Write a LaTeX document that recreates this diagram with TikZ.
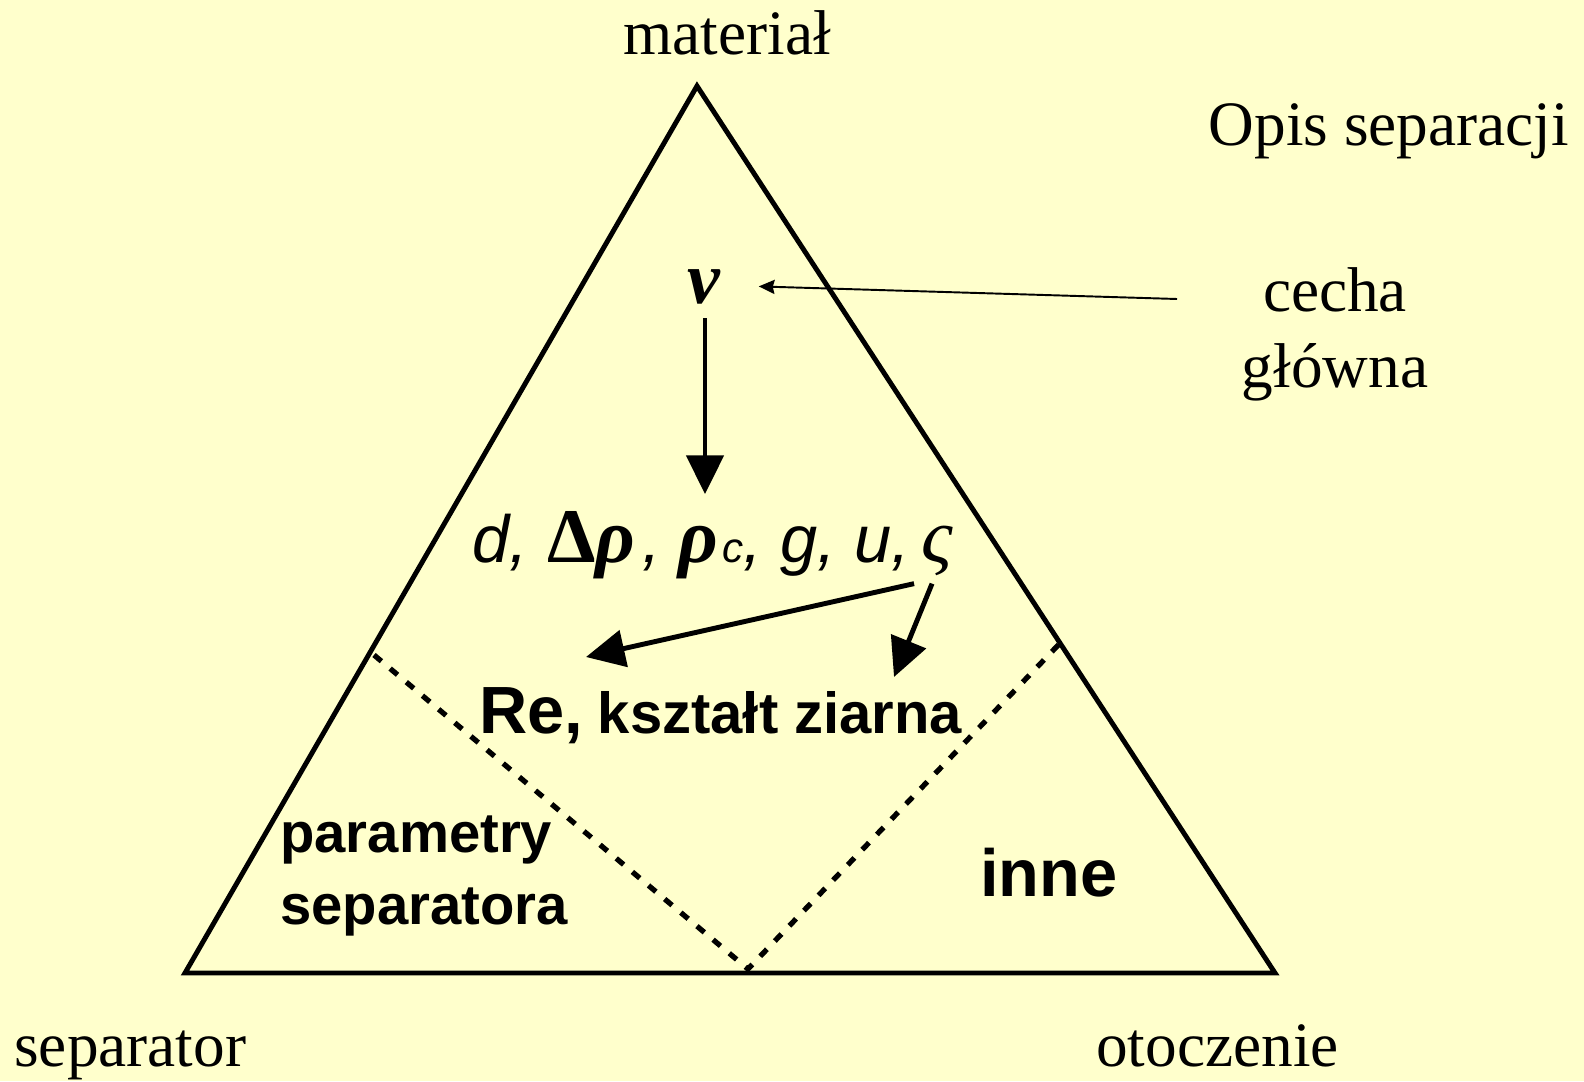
\documentclass[tikz,border=0pt]{standalone}
\usepackage{fontspec}
\setmainfont{Liberation Serif}
\setsansfont{Liberation Sans}
\usetikzlibrary{arrows.meta,calc}
\definecolor{tlo}{RGB}{255,255,204}

\begin{document}
\begin{tikzpicture}[x=0.02cm,y=-0.02cm,
    bok/.style={line width=2.8pt,line join=miter},
    podzial/.style={line width=3pt,dash pattern=on 5.5pt off 6.5pt},
    gruba/.style={line width=2.8pt,-{Triangle[length=22pt,width=21pt]}},
    cienka/.style={line width=1.1pt,-{Stealth[length=9pt,width=8pt,inset=1pt]}},
    opis/.style={anchor=base,inner sep=0pt,font=\fontsize{36}{40}\selectfont},
    blok/.style={anchor=base west,inner sep=0pt,font=\sffamily\bfseries\fontsize{32}{40}\selectfont}]
    \fill[tlo] (0,0) rectangle (1584,1081);
    \useasboundingbox (0,0) rectangle (1584,1081);
    % rogi trojkata
    \coordinate (gora) at (697,86);
    \coordinate (lewy) at (185,973);
    \coordinate (prawy) at (1275,973);
    \draw[bok] (gora) -- (prawy) -- (lewy) -- cycle;
    % linie podzialu
    \coordinate (dl) at (374,655);
    \coordinate (dd) at (748,969);
    \coordinate (dp) at (1064,639);
    \draw[podzial] (dl) -- (dd) -- (dp);
    % opisy naroznikow
    \node[opis] (mat) at (727,55) {materiał};
    \node[opis] (opis) at (1389,146) {Opis separacji};
    \node[opis] (cecha) at (1335,311) {cecha};
    \node[opis] (glowna) at (1335,387) {główna};
    \node[opis,anchor=base west] (sepr) at (14,1066) {separator};
    \node[opis,anchor=base west] (otocz) at (1096,1066) {otoczenie};
    % wnetrze
    \node[anchor=base,inner sep=0pt,font=\bfseries\itshape\fontsize{42}{42}\selectfont] (nu) at (704,303) {ν};
    \node[anchor=base west,inner sep=0pt,font=\fontsize{44}{44}\selectfont] (wielk) at (472,562)
      {{\sffamily\itshape\fontsize{38}{40}\selectfont d,}\hspace{11pt}{\bfseries Δ\textit{ρ}}\hspace{4pt}{\sffamily\itshape\fontsize{38}{40}\selectfont ,}\hspace{10pt}{\bfseries\itshape ρ}\hspace{2pt}{\sffamily\itshape\fontsize{24}{24}\selectfont c}{\sffamily\itshape\fontsize{38}{40}\selectfont , g, u,}};
    \node[anchor=base west,inner sep=0pt,font=\itshape\fontsize{44}{44}\selectfont] (sigma) at (921,562) {ς};
    \node[blok,font=\sffamily\bfseries\fontsize{38}{40}\selectfont] (re) at (479,733) {Re,};
    \node[blok,font=\sffamily\bfseries\fontsize{33}{40}\selectfont] (kszt) at ($(re.base east)+(14,0)$) {kształt ziarna};
    \node[blok] (param) at (280,852) {parametry};
    \node[blok] (sepa) at (280,924) {separatora};
    \node[blok,font=\sffamily\bfseries\fontsize{38}{40}\selectfont] (inne) at (980,896) {inne};
    % strzalki
    \coordinate (cstart) at (1177,299);
    \draw[cienka] (cstart) -- ($(nu.east)+(38,0)$);
    \draw[gruba] ($(nu.south)+(1,14)$) -- ($(nu.south)+(1,190)$);
    \coordinate (dore) at (586,657);
    \coordinate (doksz) at (894,677);
    \draw[gruba] ($(sigma.south)+(-23,8)$) -- (dore);
    \draw[gruba] ($(sigma.south)+(-5,8)$) -- (doksz);
\end{tikzpicture}
\end{document}
